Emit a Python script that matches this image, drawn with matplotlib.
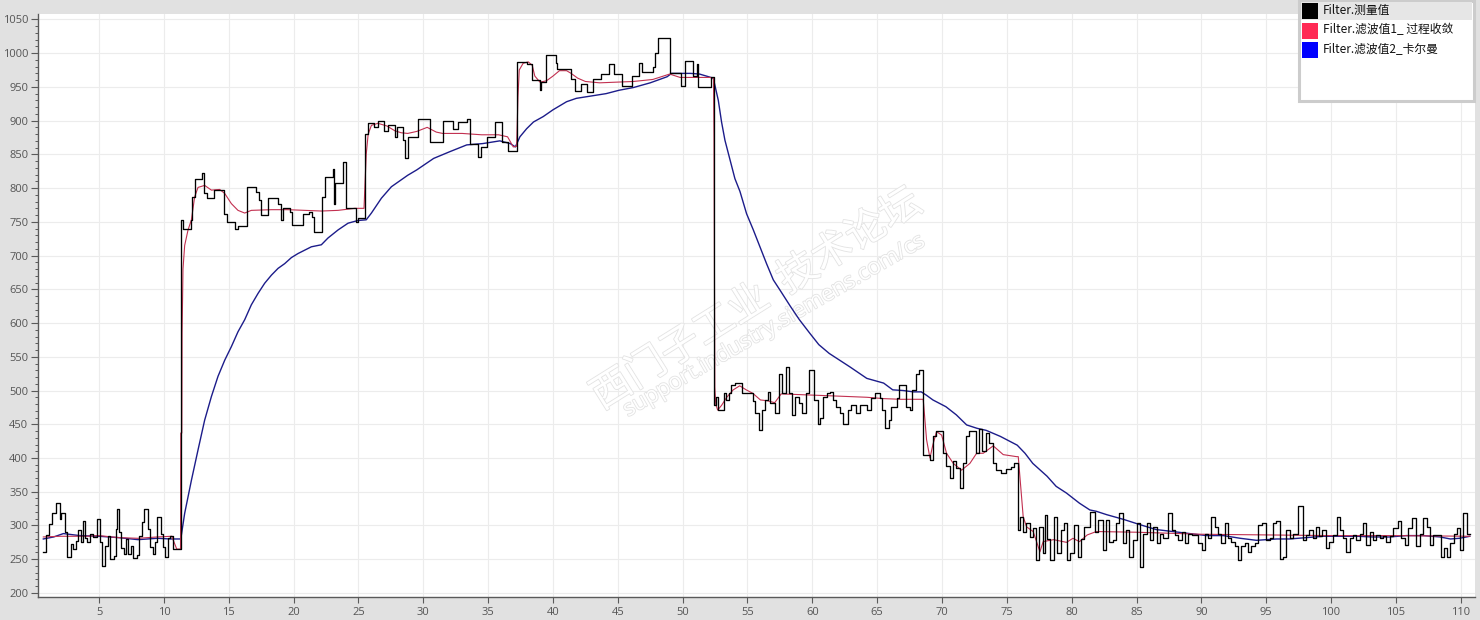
import matplotlib
matplotlib.use('Agg')
import matplotlib.pyplot as plt
import matplotlib.patheffects as pe
from matplotlib.patches import Rectangle
from matplotlib.ticker import MultipleLocator

plt.rcParams['font.family'] = ['Open Sans', 'Noto Sans CJK SC', 'DejaVu Sans']

# measured value: (time, value) step change points, split per section
meas_a = [(0.70, 261), (0.90, 286), (1.10, 302), (1.40, 318), (1.70, 333), (1.95, 310), (2.10, 318),
          (2.35, 290), (2.55, 253), (2.85, 272), (3.00, 265), (3.20, 277), (3.40, 294), (3.60, 275),
          (3.75, 306), (3.95, 282), (4.10, 276), (4.30, 288), (4.50, 283), (4.85, 309), (5.05, 275),
          (5.20, 240), (5.45, 270), (5.65, 284), (5.85, 250), (6.15, 255), (6.30, 295), (6.40, 325),
          (6.55, 290), (6.70, 266), (6.90, 257), (7.10, 280), (7.25, 258), (7.45, 270), (7.65, 252),
          (7.90, 256), (8.10, 285), (8.30, 305), (8.50, 325), (8.80, 295), (8.95, 268), (9.15, 257),
          (9.30, 275), (9.45, 312), (9.75, 288), (9.90, 268), (10.10, 253), (10.30, 282), (10.50, 284),
          (10.70, 265)]
meas_b = [(11.30, 753), (11.45, 739), (12.10, 753), (12.20, 787), (12.40, 814), (12.95, 822), (13.10, 792),
          (13.30, 785), (13.90, 797), (14.60, 762), (14.90, 750), (15.50, 740), (15.70, 744), (16.40, 801),
          (17.10, 794), (17.30, 782), (17.50, 760), (18.00, 785), (18.80, 777), (19.00, 752), (19.20, 771),
          (19.70, 765), (19.90, 745), (20.70, 762), (21.20, 765), (21.40, 757), (21.60, 735), (22.20, 787),
          (22.45, 817), (23.00, 829), (23.10, 777), (23.17, 807), (23.80, 839), (24.07, 770), (24.84, 750),
          (24.97, 755)]
meas_c = [(25.50, 880), (25.70, 897), (26.20, 890), (26.50, 899), (27.00, 885), (27.30, 893), (27.80, 875),
          (28.00, 891), (28.45, 871), (28.60, 844), (28.80, 876), (29.60, 903), (30.50, 868), (31.50, 900),
          (32.30, 887), (32.70, 898), (33.40, 903), (33.60, 866), (34.20, 846), (34.45, 861), (34.90, 876),
          (35.50, 898), (36.10, 868), (36.50, 855)]
meas_d = [(37.20, 987), (38.00, 984), (38.40, 960), (39.00, 945), (39.10, 957), (39.50, 997), (40.20, 986),
          (40.30, 976), (41.40, 961), (41.70, 944), (42.20, 955), (42.60, 943), (43.10, 961), (43.70, 969),
          (44.30, 984), (44.70, 969), (45.30, 952), (46.10, 966), (46.60, 986), (46.90, 972), (47.70, 980),
          (47.90, 1000), (48.10, 1022), (49.00, 971), (49.90, 952), (50.20, 989), (50.80, 966), (51.10, 984),
          (51.20, 950), (52.20, 964)]
meas_e = [(52.40, 478), (52.55, 491), (52.70, 471), (53.20, 496), (53.35, 486), (53.55, 496), (53.75, 508),
          (54.00, 511), (54.60, 496), (55.40, 484), (55.55, 466), (55.85, 441), (56.10, 471), (56.35, 486),
          (56.60, 498), (56.75, 481), (57.10, 466), (57.40, 525), (57.65, 496), (57.95, 535), (58.20, 496),
          (58.45, 464), (58.70, 491), (59.00, 481), (59.20, 466), (59.50, 496), (59.75, 530), (60.10, 486),
          (60.40, 451), (60.60, 459), (60.85, 491), (61.10, 496), (61.35, 498), (61.60, 486), (61.85, 476),
          (62.10, 466), (62.35, 451), (62.75, 471), (63.00, 479), (63.40, 466), (63.65, 479), (64.20, 471),
          (64.55, 489), (64.80, 496), (65.20, 489), (65.40, 471), (65.60, 444), (65.90, 456), (66.10, 476),
          (66.50, 489), (66.70, 508), (67.20, 476), (67.50, 471), (67.70, 501), (68.00, 525), (68.25, 530)]
meas_f = [(68.50, 405), (69.05, 397), (69.30, 432), (69.55, 440), (70.10, 407), (70.30, 388), (70.60, 370),
          (70.85, 395), (71.10, 385), (71.35, 356), (71.60, 393), (71.85, 432), (72.10, 440), (72.60, 407),
          (72.85, 443), (73.10, 410), (73.40, 437), (73.65, 422), (73.90, 392), (74.15, 382), (74.55, 378),
          (74.95, 383), (75.30, 387), (75.55, 392)]
meas_g = [(75.85, 293), (76.00, 313), (76.25, 290), (76.50, 303), (76.75, 283), (77.00, 296), (77.25, 249),
          (77.50, 298), (77.75, 259), (77.95, 315), (78.10, 280), (78.35, 249), (78.60, 313), (78.90, 259),
          (79.15, 293), (79.40, 303), (79.65, 249), (79.90, 259), (80.20, 301), (80.45, 254), (80.70, 280),
          (80.95, 298), (81.40, 320), (81.79, 291), (82.04, 308), (82.38, 264), (82.63, 308), (82.89, 276),
          (83.15, 279), (83.40, 303), (83.66, 318), (83.92, 274), (84.18, 293), (84.43, 254), (84.69, 279),
          (85.00, 303), (85.26, 239), (85.51, 288), (85.77, 303), (86.03, 279), (86.28, 298), (86.54, 274),
          (86.80, 288), (87.05, 281), (87.44, 318), (87.70, 293), (87.95, 286), (88.21, 279), (88.47, 291),
          (88.72, 274), (88.98, 288), (89.24, 286), (89.50, 286), (89.75, 274), (90.01, 264), (90.27, 288),
          (90.52, 281), (90.78, 313), (91.04, 298), (91.29, 288), (91.55, 274), (91.81, 303), (92.07, 281),
          (92.32, 276), (92.58, 269), (92.84, 249), (93.09, 269), (93.35, 274), (93.61, 261), (93.86, 269),
          (94.12, 274), (94.38, 301), (94.64, 303), (95.02, 279), (95.28, 281), (95.54, 303), (95.79, 306),
          (96.05, 251), (96.31, 254), (96.56, 293), (96.82, 281), (97.08, 288), (97.46, 329), (97.80, 279),
          (98.05, 286), (98.31, 293), (98.57, 281), (98.83, 298), (99.08, 284), (99.34, 293), (99.60, 266),
          (99.85, 276), (100.16, 286), (100.42, 313), (100.68, 293), (100.93, 281), (101.19, 261),
          (101.45, 281), (101.70, 286), (101.96, 279), (102.22, 288), (102.47, 303), (102.73, 271),
          (102.99, 291), (103.25, 279), (103.50, 286), (103.76, 281), (104.02, 284), (104.27, 276),
          (104.53, 284), (104.79, 296), (105.17, 306), (105.43, 281), (105.69, 271), (105.94, 296),
          (106.28, 311), (106.53, 269), (106.84, 288), (107.10, 311), (107.41, 298), (107.61, 271),
          (107.87, 286), (108.13, 286), (108.44, 254), (108.69, 266), (108.95, 254), (109.21, 274),
          (109.46, 288), (109.72, 296), (109.98, 264), (110.18, 318), (110.49, 288), (110.70, 288)]

# filter 1 (process convergence)
red_a = [(0.70, 283), (2.0, 284), (4.0, 284), (5.0, 285), (6.5, 282), (8.0, 281), (9.5, 283), (10.60, 284),
         (10.99, 265), (11.28, 265)]
red_b = [(11.30, 437), (11.38, 437), (11.40, 585), (11.47, 680), (11.60, 715), (11.86, 738), (12.12, 753),
         (12.37, 787), (12.63, 801), (13.14, 804), (13.66, 797), (14.30, 798), (14.69, 792), (15.20, 777),
         (15.71, 767), (16.23, 763), (16.74, 767), (18.29, 768), (19.57, 768), (20.86, 767), (22.14, 766),
         (23.43, 767), (24.71, 770), (25.43, 770)]
red_c = [(25.60, 850), (25.75, 880), (26.00, 893), (26.50, 896), (27.20, 892), (27.80, 885), (28.30, 882),
         (28.80, 881), (29.50, 884), (30.30, 890), (31.00, 883), (31.50, 881), (33.00, 881), (34.50, 879),
         (35.80, 879), (36.50, 876), (36.94, 861), (37.20, 862)]
red_d = [(37.30, 935), (37.40, 975), (37.70, 985), (38.10, 987), (38.40, 982), (38.60, 966), (39.00, 957),
         (39.50, 959), (40.00, 966), (40.50, 974), (41.05, 974), (41.40, 970), (41.90, 963), (42.50, 958),
         (43.60, 956), (46.20, 958), (47.70, 961), (48.50, 966), (49.00, 969), (49.80, 964), (50.80, 964),
         (52.10, 964), (52.38, 963)]
red_e = [(52.42, 874), (52.48, 505), (52.55, 480), (52.70, 471), (53.00, 478), (53.40, 490), (53.90, 501),
         (54.40, 507), (54.90, 501), (55.40, 496), (56.00, 486), (56.50, 485), (57.10, 482), (57.60, 495),
         (59.00, 494), (60.40, 493), (61.60, 492), (62.90, 491), (64.20, 490), (65.50, 488), (66.80, 487),
         (68.55, 487)]
red_f = [(68.81, 427), (69.07, 400), (69.30, 420), (69.58, 439), (69.97, 434), (70.35, 407), (70.87, 392),
         (71.51, 382), (72.15, 392), (72.67, 407), (73.18, 407), (73.95, 418), (74.72, 405), (75.75, 402),
         (75.88, 402)]
red_g = [(76.26, 313), (76.52, 298), (77.03, 291), (77.55, 261), (77.80, 276), (78.60, 279), (79.60, 275),
         (80.10, 281), (80.60, 276), (81.20, 286), (81.90, 291), (85.0, 290), (90.0, 287), (95.0, 286),
         (100.0, 285), (105.0, 285), (110.70, 284)]

# filter 2 (Kalman)
blue_a = [(0.70, 280), (1.5, 283), (2.25, 288), (3.5, 285), (5.0, 284), (6.5, 282), (8.0, 279), (9.5, 281),
          (10.5, 280), (11.30, 280)]
blue_b = [(11.60, 318), (12.12, 367), (12.63, 412), (13.14, 456), (13.66, 491), (14.17, 521), (14.69, 545),
          (15.20, 565), (15.71, 587), (16.23, 605), (16.74, 627), (17.26, 644), (17.77, 659), (18.29, 671),
          (18.80, 681), (19.31, 688), (19.83, 697), (20.34, 703), (20.85, 708), (21.37, 713), (22.14, 716),
          (22.65, 726), (23.43, 738), (24.20, 748), (24.97, 752), (25.60, 753), (26.00, 763), (26.77, 785),
          (27.54, 802), (28.80, 819), (29.50, 827), (30.80, 844), (32.05, 854), (33.35, 864), (34.60, 866),
          (35.90, 870), (36.70, 866), (37.10, 861), (37.45, 876), (37.97, 888), (38.50, 898), (39.25, 906),
          (40.00, 916), (41.05, 928), (41.80, 933), (43.10, 937), (44.10, 940), (45.10, 945), (46.20, 949),
          (47.50, 956), (48.80, 965), (49.15, 970), (50.60, 970), (51.30, 969), (52.36, 963)]
blue_c = [(52.75, 930), (53.00, 898), (53.26, 871), (53.65, 842), (54.03, 814), (54.42, 795), (54.93, 762),
          (55.45, 738), (55.96, 713), (56.47, 688), (56.99, 664), (57.50, 649), (58.30, 625), (59.00, 605),
          (59.80, 585), (60.50, 568), (61.30, 555), (62.10, 545), (62.90, 535), (64.20, 518), (65.50, 511),
          (66.20, 501), (67.00, 500), (67.80, 498), (68.40, 498), (68.80, 493), (69.30, 486), (70.30, 476),
          (71.10, 464), (71.90, 449), (72.70, 444), (73.40, 441), (74.50, 432), (75.80, 419), (76.40, 407),
          (77.00, 392), (78.10, 373), (78.80, 358), (79.60, 348), (80.60, 333), (81.40, 323), (81.90, 321),
          (82.70, 316), (84.00, 309), (85.30, 301), (86.50, 294), (87.80, 291), (89.10, 288), (90.40, 285),
          (91.70, 285), (93.00, 281), (94.25, 278), (95.00, 279), (95.80, 280), (96.80, 280), (98.10, 282),
          (99.40, 284), (100.70, 284), (102.00, 284), (103.20, 283), (104.50, 283), (105.80, 285),
          (107.10, 285), (108.40, 283), (109.20, 280), (109.90, 281), (110.70, 284)]

legend_labels = ['Filter.测量值', 'Filter.滤波值1_ 过程收敛', 'Filter.滤波值2_卡尔曼']
legend_colors = ['#000000', '#ff2a55', '#0000ff']

W, H = 1480, 620


def px_rect(x0, y0, x1, y1):
    # pixel box (top-left origin) -> figure fraction
    return x0 / W, 1 - y1 / H, (x1 - x0) / W, (y1 - y0) / H


def split(pts):
    return [p[0] for p in pts], [p[1] for p in pts]


fig = plt.figure(figsize=(W / 100, H / 100), dpi=100, facecolor='#e1e1e1')
ax = fig.add_axes([38 / W, 1 - 597 / H, (1475 - 38) / W, (597 - 14) / H])
ax.set_facecolor('white')

ax.xaxis.set_major_locator(MultipleLocator(5))
ax.yaxis.set_major_locator(MultipleLocator(50))
ax.yaxis.set_minor_locator(MultipleLocator(10))
ax.grid(True, which='major', color='#ececec', linewidth=0.8, zorder=0)
ax.set_axisbelow(True)
ax.set_xticks(list(range(5, 111, 5)))
ax.set_xlim(0.29, 111.1)
ax.set_ylim(194, 1058)

for s in ['top', 'right']:
    ax.spines[s].set_visible(False)
for s in ['left', 'bottom']:
    ax.spines[s].set_color('#5a5a5a')
    ax.spines[s].set_linewidth(1.0)
ax.tick_params(axis='both', which='major', colors='#5a5a5a', labelcolor='#555555', labelsize=8, width=0.8)
ax.tick_params(axis='y', which='major', length=5, pad=2)
ax.tick_params(axis='y', which='minor', length=2.5, width=0.7, colors='#5a5a5a')
ax.tick_params(axis='x', which='major', length=4, pad=3)

# watermark
ax.text(0.5, 0.51, '西门子工业  技术论坛', transform=ax.transAxes, rotation=32, ha='center', va='center',
        fontsize=29, family=['Noto Sans CJK SC'], color='white', zorder=1,
        path_effects=[pe.withStroke(linewidth=1.2, foreground='#e3e3e3')])
ax.text(0.5125, 0.465, 'support.industry.siemens.com/cs', transform=ax.transAxes, rotation=30,
        ha='center', va='center', fontsize=16, color='white', zorder=1,
        path_effects=[pe.withStroke(linewidth=1.2, foreground='#e3e3e3')])

t, v = split(blue_a + blue_b + blue_c)
ax.plot(t, v, color='#1c1c8a', linewidth=1.0, zorder=3)
t, v = split(red_a + red_b + red_c + red_d + red_e + red_f + red_g)
ax.plot(t, v, color='#c23050', linewidth=0.8, zorder=4)
t, v = split(meas_a + meas_b + meas_c + meas_d + meas_e + meas_f + meas_g)
ax.step(t, v, where='post', color='black', linewidth=0.95, zorder=5)

# legend panel
box = px_rect(1299, 1, 1474, 101)
fig.patches.append(Rectangle(box[:2], *box[2:], transform=fig.transFigure, facecolor='white',
                             edgecolor='#cccccc', linewidth=2.2, zorder=5))
row = px_rect(1301, 2, 1472, 20)
fig.patches.append(Rectangle(row[:2], *row[2:], transform=fig.transFigure, facecolor='#e6e6e6',
                             edgecolor='none', zorder=6))
for i, (lab, col) in enumerate(zip(legend_labels, legend_colors)):
    y0 = 3 + i * 19.5
    r = px_rect(1302, y0, 1318, y0 + 16)
    fig.patches.append(Rectangle(r[:2], *r[2:], transform=fig.transFigure, facecolor=col,
                                 edgecolor='none', zorder=7))
    fig.text(1323 / W, 1 - (y0 + 7.5) / H, lab, ha='left', va='center', fontsize=8.5,
             family=['Noto Sans CJK SC', 'DejaVu Sans'], color='#111111', zorder=8)

fig.savefig('out.png', dpi=100, facecolor=fig.get_facecolor())
